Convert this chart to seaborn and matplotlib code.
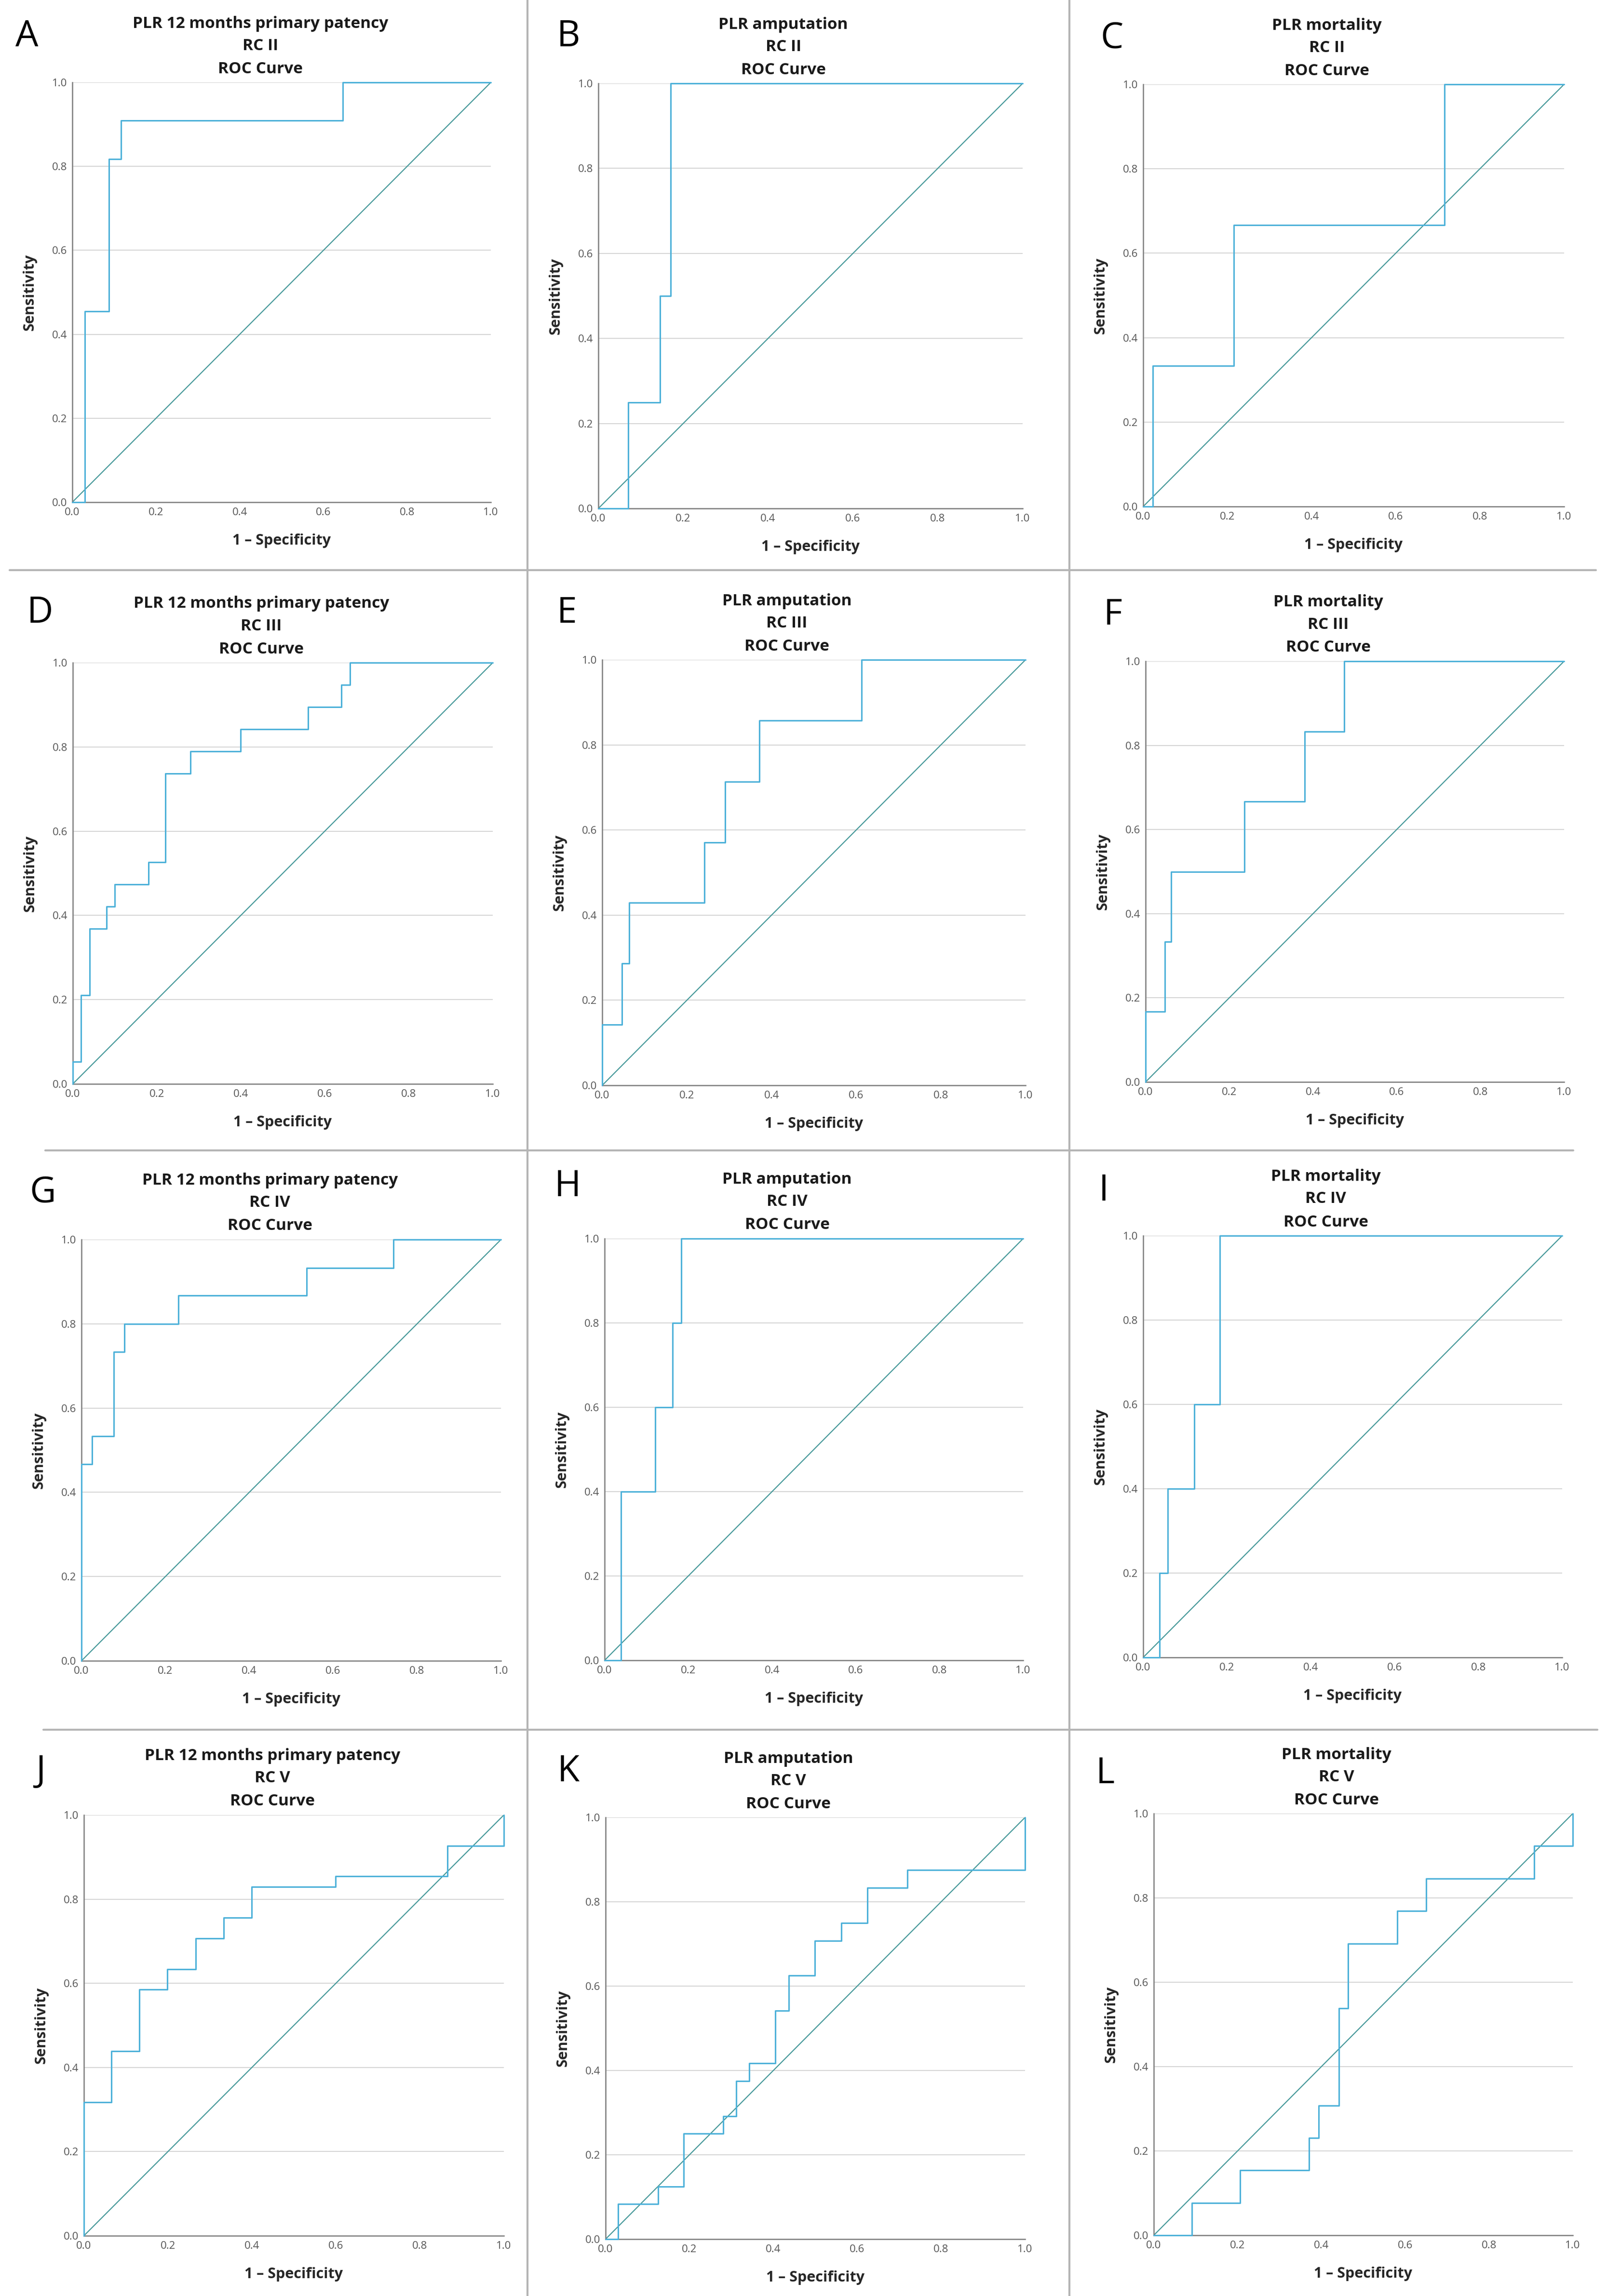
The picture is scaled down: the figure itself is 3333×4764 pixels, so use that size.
import matplotlib
matplotlib.use("Agg")
import matplotlib.pyplot as plt
from matplotlib.lines import Line2D
import seaborn as sns

sns.set_style("white")
plt.rcParams['font.family'] = ['Open Sans', 'DejaVu Sans']

# ---------------- data ----------------
outcomes = ["PLR 12 months primary patency", "PLR amputation", "PLR mortality"]
classes = ["RC II", "RC III", "RC IV", "RC V"]
letters = ["A", "B", "C", "D", "E", "F", "G", "H", "I", "J", "K", "L"]
ticks = [0.0, 0.2, 0.4, 0.6, 0.8, 1.0]
tick_labels = ["0.0", "0.2", "0.4", "0.6", "0.8", "1.0"]
diag = [0.0, 1.0]

fpr_A = [0, 0.030, 0.088, 0.116, 0.646, 1.0]
tpr_A = [0, 0.455, 0.818, 0.909, 1.0, 1.0]
fpr_B = [0, 0.071, 0.145, 0.171, 1.0]
tpr_B = [0, 0.25, 0.5, 1.0, 1.0]
fpr_C = [0, 0.023, 0.215, 0.716, 1.0]
tpr_C = [0, 0.333, 0.667, 1.0, 1.0]
fpr_D = [0, 0, 0.02, 0.04, 0.08, 0.10, 0.18, 0.22, 0.28, 0.40, 0.56, 0.64, 0.66, 1.0]
tpr_D = [0, 0.053, 0.211, 0.368, 0.421, 0.474, 0.526, 0.737, 0.789, 0.842, 0.895, 0.947, 1.0, 1.0]
fpr_E = [0, 0, 0.047, 0.064, 0.241, 0.291, 0.371, 0.613, 1.0]
tpr_E = [0, 0.143, 0.286, 0.429, 0.571, 0.714, 0.857, 1.0, 1.0]
fpr_F = [0, 0, 0.046, 0.061, 0.236, 0.380, 0.475, 1.0]
tpr_F = [0, 0.167, 0.333, 0.5, 0.667, 0.833, 1.0, 1.0]
fpr_G = [0, 0, 0.025, 0.077, 0.102, 0.231, 0.537, 0.744, 1.0]
tpr_G = [0, 0.467, 0.533, 0.733, 0.8, 0.867, 0.933, 1.0, 1.0]
fpr_H = [0, 0.039, 0.121, 0.162, 0.183, 1.0]
tpr_H = [0, 0.4, 0.6, 0.8, 1.0, 1.0]
fpr_I = [0, 0.039, 0.059, 0.122, 0.183, 1.0]
tpr_I = [0, 0.2, 0.4, 0.6, 1.0, 1.0]
fpr_J = [0, 0, 0.066, 0.132, 0.199, 0.266, 0.333, 0.399, 0.599, 0.866, 1.0]
tpr_J = [0, 0.317, 0.439, 0.585, 0.634, 0.707, 0.756, 0.829, 0.854, 0.927, 1.0]
fpr_K = [0, 0.030, 0.125, 0.186, 0.281, 0.312, 0.343, 0.405, 0.437, 0.499, 0.562, 0.624, 0.719, 1.0]
tpr_K = [0, 0.083, 0.125, 0.25, 0.292, 0.375, 0.417, 0.542, 0.625, 0.708, 0.75, 0.833, 0.875, 1.0]
fpr_L = [0, 0.091, 0.206, 0.371, 0.394, 0.442, 0.464, 0.581, 0.65, 0.908, 1.0]
tpr_L = [0, 0.077, 0.154, 0.231, 0.308, 0.538, 0.692, 0.769, 0.846, 0.923, 1.0]

curves = [(fpr_A, tpr_A), (fpr_B, tpr_B), (fpr_C, tpr_C),
          (fpr_D, tpr_D), (fpr_E, tpr_E), (fpr_F, tpr_F),
          (fpr_G, tpr_G), (fpr_H, tpr_H), (fpr_I, tpr_I),
          (fpr_J, tpr_J), (fpr_K, tpr_K), (fpr_L, tpr_L)]

# ---------------- layout (pixels) ----------------
W, H = 3333, 4764
fig = plt.figure(figsize=(W / 100, H / 100), dpi=100)
fig.patch.set_facecolor("white")

# left, right, top, bottom in pixels
boxes = [
    (150, 1018, 171, 1042), (1241, 2121, 173, 1055), (2371, 3244, 175, 1051),
    (151, 1022, 1375, 2249), (1249, 2127, 1369, 2252), (2376, 3244, 1372, 2245),
    (169, 1039, 2572, 3446), (1254, 2122, 2570, 3445), (2371, 3240, 2564, 3439),
    (174, 1045, 3766, 4639), (1256, 2126, 3771, 4646), (2393, 3262, 3763, 4638),
]
letter_pos = [(56, 76), (1179, 76), (2306, 80), (83, 1273), (1176, 1273), (2308, 1277),
              (89, 2475), (1177, 2463), (2289, 2471), (85, 3677), (1179, 3677), (2292, 3680)]
title_frac = [0.449, 0.436, 0.436]

CURVE = "#4db1d9"
DIAG = "#47999a"

def px2fig(x, y):
    return x / W, 1 - y / H

for i, (l, r, t, b) in enumerate(boxes):
    row, col = divmod(i, 3)
    x0, y0 = px2fig(l, b)
    ax = fig.add_axes([x0, y0, (r - l) / W, (b - t) / H])
    fpr, tpr = curves[i]
    for y in ticks[1:]:
        ax.axhline(y, color="#d4d4d4", lw=1.4, zorder=0)
    sns.lineplot(x=diag, y=diag, ax=ax, color=DIAG, lw=1.6, estimator=None,
                 sort=False, zorder=2)
    sns.lineplot(x=fpr, y=tpr, ax=ax, color=CURVE, lw=2.2, estimator=None,
                 sort=False, drawstyle="steps-post", zorder=3, clip_on=False)
    ax.set_xlim(0, 1)
    ax.set_ylim(0, 1)
    ax.set_xticks(ticks)
    ax.set_yticks(ticks)
    ax.set_xticklabels(tick_labels)
    ax.set_yticklabels(tick_labels)
    ax.tick_params(length=0, labelsize=16, labelcolor="#555555", pad=8)
    for s in ["top", "right"]:
        ax.spines[s].set_visible(False)
    for s in ["left", "bottom"]:
        ax.spines[s].set_color("#7c7c7c")
        ax.spines[s].set_linewidth(1.8)
    ax.set_xlabel("1 – Specificity", fontsize=22, fontweight="bold", labelpad=24)
    ax.set_ylabel("Sensitivity", fontsize=22, fontweight="bold", labelpad=22)
    # titles
    tx = l + title_frac[col] * (r - l)
    for txt, off in [("ROC Curve", 28), (classes[row], 76), (outcomes[col], 122)]:
        fx, fy = px2fig(tx, t - off)
        fig.text(fx, fy, txt, ha="center", va="center", fontsize=24,
                 fontweight="bold", color="#1a1a1a")
    lx, ly = px2fig(*letter_pos[i])
    fig.text(lx, ly, letters[i], ha="center", va="center", fontsize=54, color="black")

# separator lines
sep = "#b5b5b5"
for (xa, ya, xb, yb) in [(1094, 0, 1094, H), (2218, 0, 2218, H),
                         (20, 1183, 3310, 1183), (94, 2387, 3263, 2387),
                         (90, 3589, 3313, 3589)]:
    xa_, ya_ = px2fig(xa, ya)
    xb_, yb_ = px2fig(xb, yb)
    fig.add_artist(Line2D([xa_, xb_], [ya_, yb_], color=sep, lw=3,
                          transform=fig.transFigure))

fig.savefig("out.png", dpi=100, facecolor="white")
